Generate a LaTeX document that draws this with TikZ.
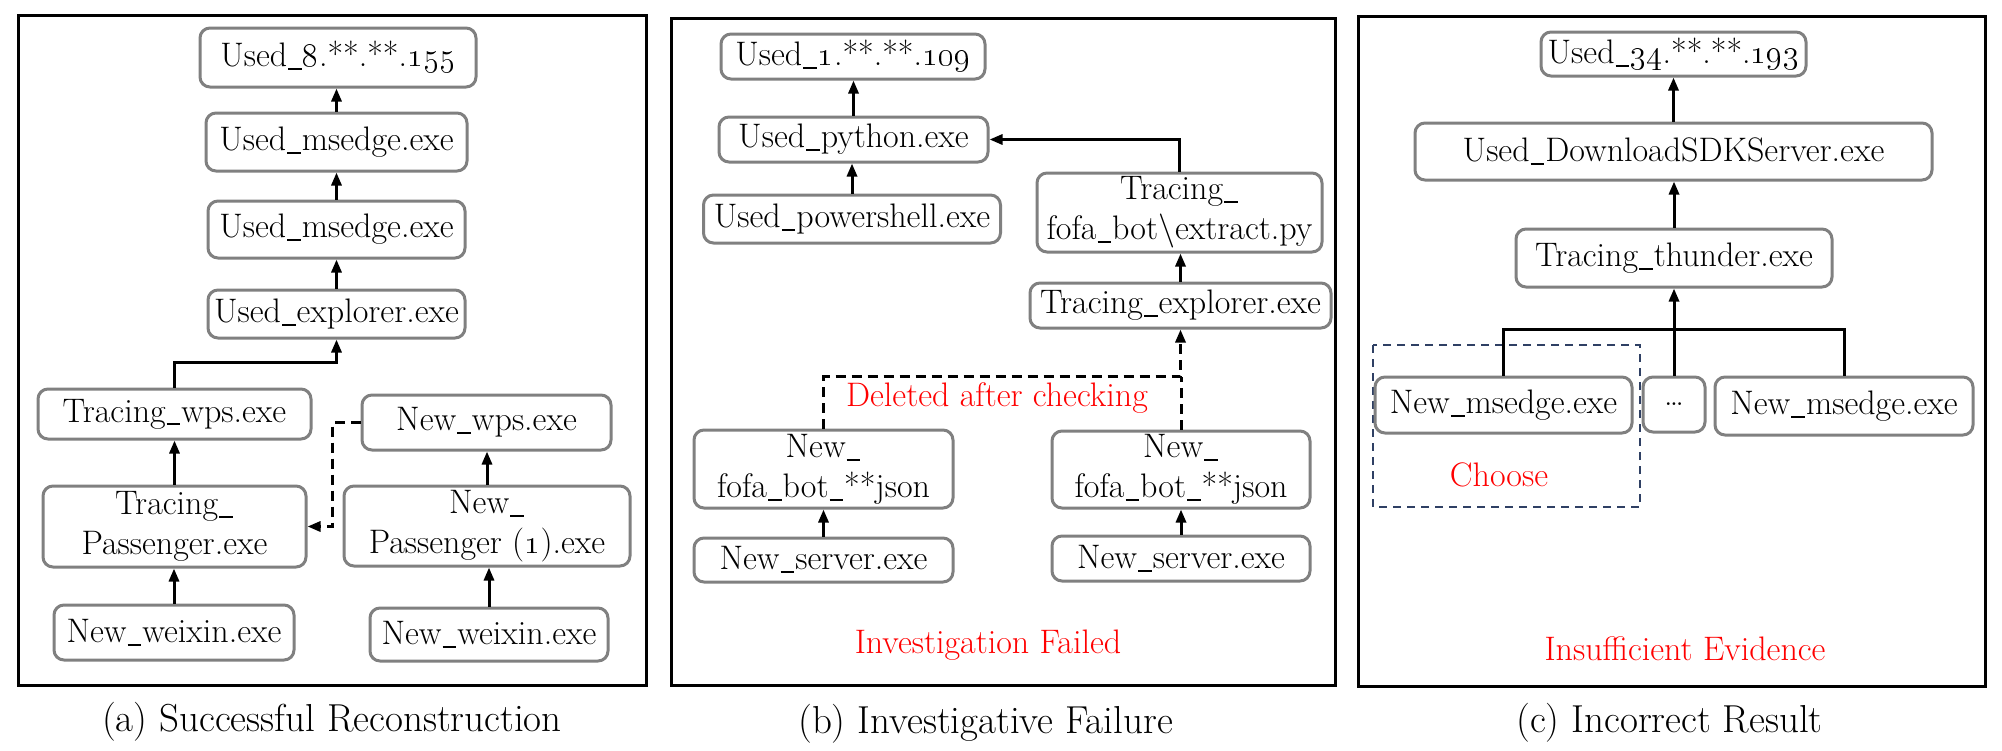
\documentclass[tikz,border=0pt]{standalone}
\usetikzlibrary{arrows.meta}
\definecolor{bgray}{RGB}{128,128,128}
\definecolor{navyd}{RGB}{47,64,100}
\tikzset{
  nb/.style={draw=bgray, line width=1.5pt, rounded corners=5pt, fill=white, inner sep=1pt, align=center, font=\fontsize{17}{20}\selectfont},
  arr/.style={line width=1.5pt, -{Triangle[length=6.5pt,width=5pt]}},
  darr/.style={arr, dash pattern=on 5pt off 3pt},
  dl/.style={line width=1.5pt, dash pattern=on 5pt off 3pt},
  cn/.style={line width=1.5pt},
  panel/.style={draw=black, line width=1.5pt},
  redtxt/.style={text=red, inner sep=0pt, font=\fontsize{17}{20}\selectfont},
  captxt/.style={inner sep=0pt, font=\fontsize{19.5}{22}\selectfont},
}
\newcommand{\osn}[1]{\oldstylenums{#1}}
\newcommand{\us}{\kern0.03em\rule[-0.1em]{0.4em}{0.06em}\kern0.03em}
\begin{document}
\begin{tikzpicture}[x=0.5pt, y=-0.5pt]
\useasboundingbox (0,0) rectangle (2002,750);
% panels
\draw[panel] (18,15) rectangle (646,685);
\draw[panel] (671,18) rectangle (1335,685);
\draw[panel] (1358,16) rectangle (1985,686);

% ---------- panel (a)
\node[nb, minimum width=138pt, minimum height=29.5pt] (a1) at (338,57.5) {Used\us\osn{8}.**.**.\osn{155}};
\node[nb, minimum width=130.5pt, minimum height=29pt] (a2) at (336.5,142) {Used\us msedge.exe};
\node[nb, minimum width=128.5pt, minimum height=28.5pt] (a3) at (336.5,229.5) {Used\us msedge.exe};
\node[nb, minimum width=128.5pt, minimum height=24pt] (a4) at (336.5,314) {Used\us explorer.exe};
\node[nb, minimum width=136.5pt, minimum height=25pt] (a5) at (174.5,414) {Tracing\us wps.exe};
\node[nb, minimum width=124.5pt, minimum height=27.5pt] (a6) at (486.5,422.5) {New\us wps.exe};
\node[nb, minimum width=131.5pt, minimum height=40.5pt] (a7) at (174.5,526.5) {Tracing\us\\Passenger.exe};
\node[nb, minimum width=143pt, minimum height=40pt] (a8) at (487,526) {New\us\\Passenger (\osn{1}).exe};
\node[nb, minimum width=120pt, minimum height=27.5pt] (a9) at (174,632.5) {New\us weixin.exe};
\node[nb, minimum width=119pt, minimum height=26.5pt] (a10) at (489,634.5) {New\us weixin.exe};

\draw[arr] (a2.north) -- (a2.north |- a1.south);
\draw[arr] (a3.north) -- (a3.north |- a2.south);
\draw[arr] (a4.north) -- (a4.north |- a3.south);
\draw[arr] (a5.north) -- ++(0,-25) -| (a4.south);
\draw[arr] (a7.north) -- (a7.north |- a5.south);
\draw[arr] (a9.north) -- (a9.north |- a7.south);
\draw[arr] (a8.north) -- (a8.north |- a6.south);
\draw[arr] (a10.north) -- (a10.north |- a8.south);
\draw[darr] (a6.west) -- ++(-28,0) |- (a7.east);

\node[captxt] (capa) at (332,722) {(a) Successful Reconstruction};

% ---------- panel (b)
\node[nb, minimum width=132pt, minimum height=22.5pt] (b1) at (853,56.5) {Used\us\osn{1}.**.**.\osn{109}};
\node[nb, minimum width=134.5pt, minimum height=22.5pt] (b2) at (853.5,139.5) {Used\us python.exe};
\node[nb, minimum width=148.5pt, minimum height=24pt] (b3) at (852,219) {Used\us powershell.exe};
\node[nb, minimum width=142.5pt, minimum height=39.5pt] (b4) at (1179.5,212.5) {Tracing\us\\fofa\us bot\textbackslash extract.py};
\node[nb, minimum width=150.5pt, minimum height=22.5pt] (b5) at (1180.5,305.5) {Tracing\us explorer.exe};
\node[nb, minimum width=129.5pt, minimum height=39pt] (b6) at (823.5,469) {New\us\\fofa\us bot\us**json};
\node[nb, minimum width=129pt, minimum height=38.5pt] (b7) at (1181,469.5) {New\us\\fofa\us bot\us**json};
\node[nb, minimum width=129.5pt, minimum height=22pt] (b8) at (823.5,560) {New\us server.exe};
\node[nb, minimum width=129pt, minimum height=22.5pt] (b9) at (1181,558.5) {New\us server.exe};

\draw[arr] (b2.north) -- (b2.north |- b1.south);
\draw[arr] (b3.north) -- (b3.north |- b2.south);
\draw[arr] (b4.north) |- (b2.east);
\draw[arr] (b5.north) -- (b5.north |- b4.south);
\draw[arr] (b8.north) -- (b8.north |- b6.south);
\draw[arr] (b9.north) -- (b9.north |- b7.south);
\draw[darr] (b6.north) -- ++(0,-52) -| (b5.south);
\draw[dl] (b7.north) -- ++(0,-53);

\node[redtxt] (del) at (997,398) {Deleted after checking};
\node[redtxt] (fail) at (988,645) {Investigation Failed};
\node[captxt] (capb) at (985.5,724) {(b) Investigative Failure};

% ---------- panel (c)
\node[nb, minimum width=132.5pt, minimum height=22pt] (c1) at (1673.5,54) {Used\us\osn{34}.**.**.\osn{193}};
\node[nb, minimum width=258.5pt, minimum height=28.5pt] (c2) at (1673.5,151.5) {Used\us DownloadSDKServer.exe};
\node[nb, minimum width=158pt, minimum height=29pt] (c3) at (1674,258) {Tracing\us thunder.exe};
\draw[navyd, line width=1pt, dash pattern=on 4pt off 3pt] (1373,345) rectangle (1640,507);
\node[nb, minimum width=128.5pt, minimum height=28pt] (c4) at (1503.5,405) {New\us msedge.exe};
\node[nb, minimum width=31pt, minimum height=27.5pt] (c5) at (1674,404.5) {\ldots};
\node[nb, minimum width=129pt, minimum height=29pt] (c6) at (1844,406) {New\us msedge.exe};

\draw[arr] (c2.north) -- (c2.north |- c1.south);
\draw[arr] (c3.north) -- (c3.north |- c2.south);
\draw[arr] (c5.north) -- (c5.north |- c3.south);
\draw[cn] (c4.north) -- ++(0,-46) -| (c6.north);

\node[redtxt] (cho) at (1499,475) {Choose};
\node[redtxt] (ins) at (1685,649) {Insufficient Evidence};
\node[captxt] (capc) at (1669.5,723) {(c) Incorrect Result};
\end{tikzpicture}
\end{document}
